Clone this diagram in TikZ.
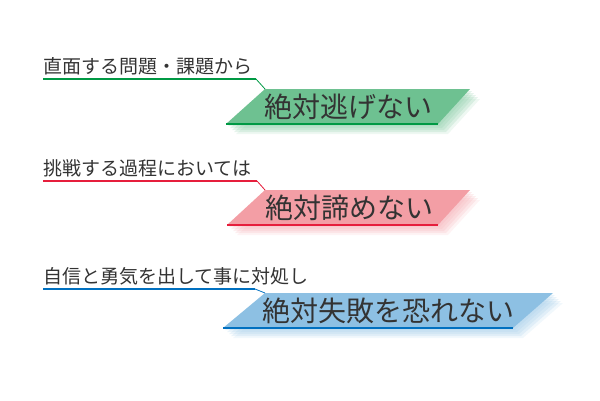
\documentclass[tikz,border=0pt]{standalone}
\usepackage{fontspec}
\newfontfamily\jpfont{Noto Sans CJK JP}
\usetikzlibrary{shadows}

\definecolor{greenfill}{RGB}{110,193,145}
\definecolor{greenline}{RGB}{0,153,68}
\definecolor{redfill}{RGB}{243,158,165}
\definecolor{redline}{RGB}{230,30,60}
\definecolor{bluefill}{RGB}{141,192,227}
\definecolor{blueline}{RGB}{0,112,192}

\tikzset{
  banner/.style={inner sep=0pt, font=\jpfont\fontsize{28}{28}\selectfont, text=black!80},
  tag/.style={anchor=south west, inner xsep=0pt, inner ysep=3.5pt,
    font=\jpfont\fontsize{19}{19}\selectfont, text=black!80},
  glow/.style={
    general shadow={fill=#1, opacity=.22, shadow xshift=2pt, shadow yshift=-2pt},
    general shadow={fill=#1, opacity=.22, shadow xshift=4pt, shadow yshift=-4pt},
    general shadow={fill=#1, opacity=.22, shadow xshift=6pt, shadow yshift=-6pt},
    general shadow={fill=#1, opacity=.22, shadow xshift=8pt, shadow yshift=-8pt},
    general shadow={fill=#1, opacity=.15, shadow xshift=10pt, shadow yshift=-10pt}},
}

\begin{document}
\begin{tikzpicture}[x=1pt,y=-1pt]
\useasboundingbox (0,0) rectangle (600,400);

% banners
\fill[greenfill, glow=greenfill!80] (226,124) coordinate (b1bl) -- (438,124) coordinate (b1br)
  -- (470,89) -- (265,89) coordinate (b1tl) -- cycle;
\fill[redfill, glow=redfill!80] (227,225) coordinate (b2bl) -- (438,225) coordinate (b2br)
  -- (470,190) -- (265,190) coordinate (b2tl) -- cycle;
\fill[bluefill, glow=bluefill!80] (223,328) coordinate (b3bl) -- (513,328) coordinate (b3br)
  -- (553,293) -- (265,293) coordinate (b3tl) -- cycle;

\node[banner] (b1) at (348,107) {絶対逃げない};
\node[banner] (b2) at (349,208) {絶対諦めない};
\node[banner] (b3) at (388,311) {絶対失敗を恐れない};

\draw[greenline, line width=2.5pt] (b1bl) -- (b1br);
\draw[redline, line width=2.5pt] (b2bl) -- (b2br);
\draw[blueline, line width=2.5pt] (b3bl) -- (b3br);

% labels and leaders
\node[tag] (t1) at (43,79) {直面する問題・課題から};
\node[tag] (t2) at (43,181) {挑戦する過程においては};
\node[tag] (t3) at (43,289) {自信と勇気を出して事に対処し};

\coordinate (k1) at (256,79);
\coordinate (k2) at (257,181);
\coordinate (k3) at (255,289);

\draw[greenline, line width=1.6pt] (t1.south west) -- (k1);
\draw[greenline, line width=0.8pt] (k1) -- (b1tl);
\draw[redline, line width=1.6pt] (t2.south west) -- (k2);
\draw[redline, line width=0.8pt] (k2) -- (b2tl);
\draw[blueline, line width=1.6pt] (t3.south west) -- (k3);
\draw[blueline, line width=0.8pt] (k3) -- (b3tl);

\end{tikzpicture}
\end{document}
